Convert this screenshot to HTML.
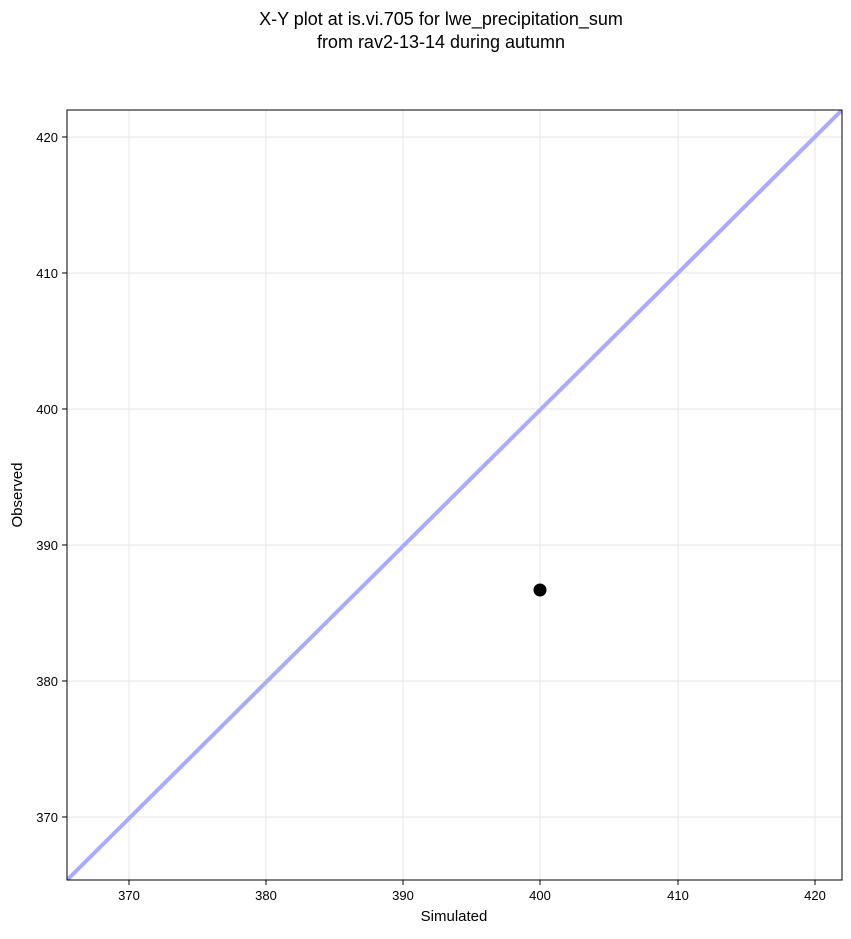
<!DOCTYPE html>
<html><head><style>
body{margin:0;background:#fff;}
svg text{font-family:"Liberation Sans","DejaVu Sans",sans-serif;}
</style></head><body>
<svg width="851" height="934" xmlns="http://www.w3.org/2000/svg">
<rect width="851" height="934" fill="#fff"/>
<text x="441" y="25" font-size="18" text-anchor="middle">X-Y plot at is.vi.705 for lwe_precipitation_sum</text>
<text x="441" y="48" font-size="18" text-anchor="middle">from rav2-13-14 during autumn</text>
<defs><clipPath id="c"><rect x="67" y="110" width="775" height="770"/></clipPath></defs>
<g stroke="#e6e6e6" stroke-width="1">
<line x1="129" y1="110" x2="129" y2="880"/><line x1="266" y1="110" x2="266" y2="880"/>
<line x1="403" y1="110" x2="403" y2="880"/><line x1="540" y1="110" x2="540" y2="880"/>
<line x1="678" y1="110" x2="678" y2="880"/><line x1="815" y1="110" x2="815" y2="880"/>
<line x1="67" y1="137" x2="842" y2="137"/><line x1="67" y1="273" x2="842" y2="273"/>
<line x1="67" y1="409" x2="842" y2="409"/><line x1="67" y1="545" x2="842" y2="545"/>
<line x1="67" y1="681" x2="842" y2="681"/><line x1="67" y1="817" x2="842" y2="817"/>
</g>
<g clip-path="url(#c)">
<line x1="62" y1="885" x2="847" y2="105" stroke="#aaaaff" stroke-width="4"/>
</g>
<circle cx="540" cy="590" r="6.5" fill="#000"/>
<rect x="67" y="110" width="775" height="770" fill="none" stroke="#000" stroke-width="1"/>
<g stroke="#000">
<line x1="129" y1="880" x2="129" y2="885"/><line x1="266" y1="880" x2="266" y2="885"/>
<line x1="403" y1="880" x2="403" y2="885"/><line x1="540" y1="880" x2="540" y2="885"/>
<line x1="678" y1="880" x2="678" y2="885"/><line x1="815" y1="880" x2="815" y2="885"/>
<line x1="62" y1="137" x2="67" y2="137"/><line x1="62" y1="273" x2="67" y2="273"/>
<line x1="62" y1="409" x2="67" y2="409"/><line x1="62" y1="545" x2="67" y2="545"/>
<line x1="62" y1="681" x2="67" y2="681"/><line x1="62" y1="817" x2="67" y2="817"/>
</g>
<g font-size="13" text-anchor="middle">
<text x="129" y="900">370</text><text x="266" y="900">380</text><text x="403" y="900">390</text>
<text x="540" y="900">400</text><text x="678" y="900">410</text><text x="815" y="900">420</text>
</g>
<g font-size="13" text-anchor="end">
<text x="58" y="142">420</text><text x="58" y="278">410</text><text x="58" y="414">400</text>
<text x="58" y="550">390</text><text x="58" y="686">380</text><text x="58" y="822">370</text>
</g>
<text x="454" y="921" font-size="15" text-anchor="middle">Simulated</text>
<text x="22" y="495" font-size="15" text-anchor="middle" transform="rotate(-90 22 495)">Observed</text>
</svg>
</body></html>
